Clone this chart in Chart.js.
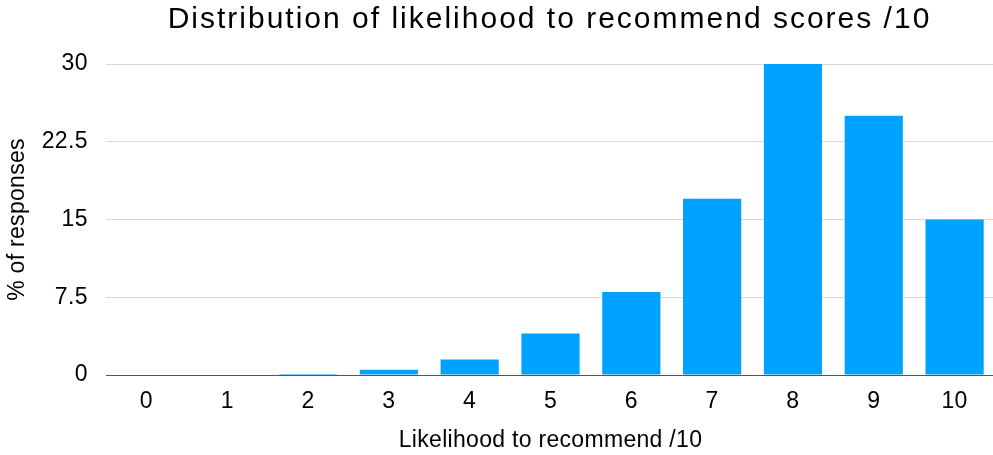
<!DOCTYPE html>
<html>
<head>
<meta charset="utf-8">
<script src="https://cdn.jsdelivr.net/npm/chart.js@4"></script>
<style>
html,body{margin:0;padding:0;background:#fff;}
#wrap{position:relative;width:993px;height:455px;}
</style>
</head>
<body>
<div id="wrap"><canvas id="c" width="993" height="455"></canvas></div>
<script>
const categories = ['0','1','2','3','4','5','6','7','8','9','10'];
const percentResponses = [0, 0, 0.1, 0.5, 1.5, 4, 8, 17, 30, 25, 15];
const yTickLabels = ['0','7.5','15','22.5','30'];
const chartTitle = 'Distribution of likelihood to recommend scores /10';
const xTitle = 'Likelihood to recommend /10';
const yTitle = '% of responses';

const FONT = '"Liberation Sans", Arial, Helvetica, sans-serif';

function withSpacing(obj, method, spacing) {
  if (!obj || obj['__wrapped_' + method]) return;
  const orig = obj[method];
  obj[method] = function(...args) {
    const ctx = this.ctx;
    ctx.save();
    try { ctx.letterSpacing = spacing; } catch (e) {}
    const r = orig.apply(this, args);
    ctx.restore();
    return r;
  };
  obj['__wrapped_' + method] = true;
}

const layoutTweaks = {
  id: 'layoutTweaks',
  afterLayout(chart) {
    // plot area in the reference runs slightly past the right canvas edge
    const x = chart.scales.x;
    const extRight = 995;
    x.right = extRight;
    x.width = extRight - x.left;
    chart.chartArea.right = extRight;
    chart.chartArea.width = extRight - chart.chartArea.left;
    if (typeof x.configure === 'function') x.configure();

    const tb = chart.titleBlock;
    if (tb) {
      tb.left = chart.chartArea.left;
      tb.right = 993;
      withSpacing(tb, 'draw', '2px');
    }
    ['x', 'y'].forEach(id => {
      const s = chart.scales[id];
      withSpacing(s, 'drawLabels', '0.4px');
      withSpacing(s, 'drawTitle', '0.3px');
    });
  }
};

new Chart(document.getElementById('c'), {
  type: 'bar',
  data: {
    labels: categories,
    datasets: [{
      data: percentResponses,
      backgroundColor: 'rgb(0,162,255)',
      borderWidth: 0,
      categoryPercentage: 1,
      barPercentage: 0.72
    }]
  },
  options: {
    responsive: false,
    animation: false,
    layout: { padding: 0 },
    plugins: {
      legend: { display: false },
      tooltip: { enabled: false },
      title: {
        display: true,
        text: chartTitle,
        color: '#000',
        font: { family: FONT, size: 30, weight: 'normal', lineHeight: 1.2 },
        padding: { top: 2, bottom: 26 }
      }
    },
    scales: {
      x: {
        grid: { display: false, drawTicks: false },
        border: { display: true, color: '#555', width: 1 },
        ticks: { color: '#000', font: { family: FONT, size: 23 }, padding: 13, maxRotation: 0 },
        title: { display: true, text: xTitle, color: '#000', font: { family: FONT, size: 23 }, padding: { top: 0, bottom: 1 } },
        afterFit(s) { s.height = 80; }
      },
      y: {
        min: 0, max: 30,
        grid: { color: '#d9d9d9', drawTicks: false, lineWidth: 1 },
        border: { display: false },
        ticks: {
          stepSize: 7.5,
          color: '#000',
          font: { family: FONT, size: 23 },
          padding: 18,
          callback: (v, i) => yTickLabels[i]
        },
        title: { display: true, text: yTitle, color: '#000', font: { family: FONT, size: 23 }, padding: { top: 4, bottom: 0 } },
        afterFit(s) { s.width = 106; }
      }
    }
  },
  plugins: [layoutTweaks]
});
</script>
</body>
</html>
